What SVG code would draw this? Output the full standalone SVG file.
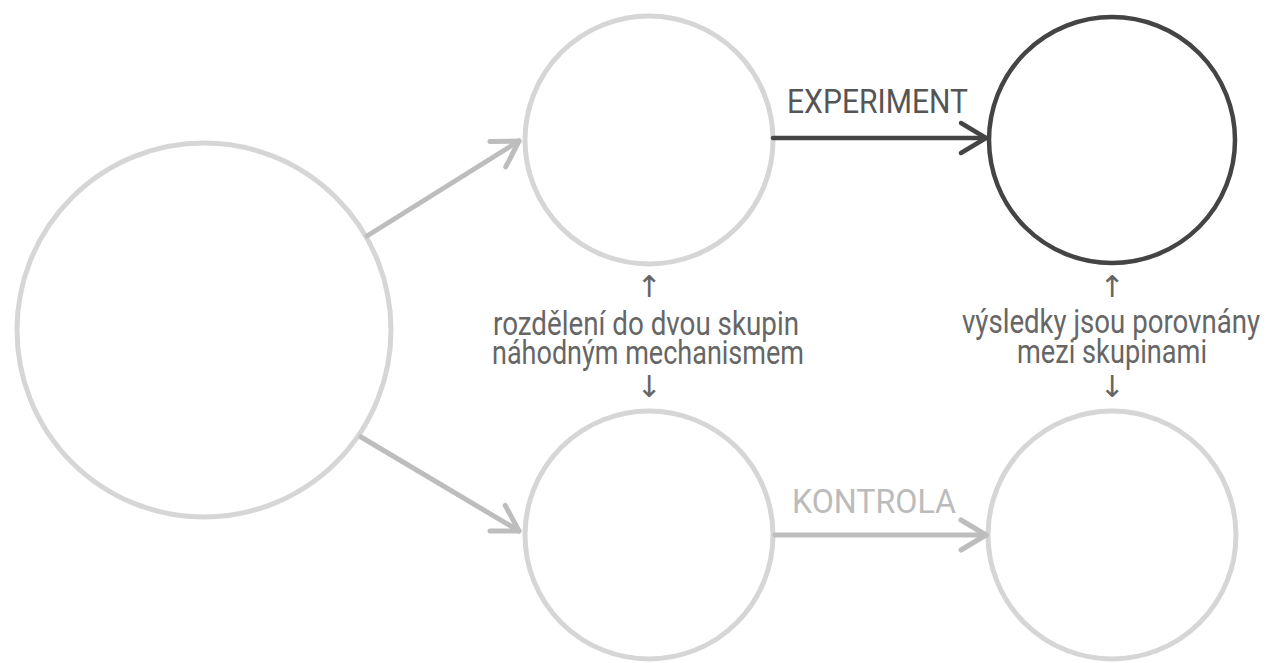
<svg xmlns="http://www.w3.org/2000/svg" width="1270" height="663" viewBox="0 0 1270 663">
<style>
.light{fill:none;stroke:#d6d6d6;stroke-width:5}
.dark{fill:none;stroke:#444;stroke-width:4.5}
.ga{fill:none;stroke:#bdbdbd;stroke-width:5;stroke-linecap:round}
.da{fill:none;stroke:#444;stroke-width:4.5;stroke-linecap:round}
.lbl{font-family:Roboto,"Liberation Sans",sans-serif;font-size:33px}
.ann{fill:#666}
.arr{font-family:"DejaVu Sans",sans-serif;font-size:30px}
</style>
<defs>
<marker id="mg" markerUnits="userSpaceOnUse" markerWidth="40" markerHeight="40" viewBox="-32 -20 40 40" refX="0" refY="0" orient="auto" overflow="visible">
<path d="M-25,-15 L0,0 L-25,15" fill="none" stroke="#bdbdbd" stroke-width="5" stroke-linecap="round" stroke-linejoin="round"/>
</marker>
<marker id="md" markerUnits="userSpaceOnUse" markerWidth="40" markerHeight="40" viewBox="-32 -20 40 40" refX="0" refY="0" orient="auto" overflow="visible">
<path d="M-25,-15 L0,0 L-25,15" fill="none" stroke="#444" stroke-width="4.5" stroke-linecap="round" stroke-linejoin="round"/>
</marker>
</defs>
<rect width="1270" height="663" fill="#fff"/>
<g id="population"><circle class="light" cx="204" cy="330" r="187"/></g>
<g id="group-top"><circle class="light" cx="649" cy="140" r="124"/></g>
<g id="group-bottom"><circle class="light" cx="649" cy="535" r="124"/></g>
<g id="result-experiment"><circle class="dark" cx="1112" cy="140" r="123"/></g>
<g id="result-control"><circle class="light" cx="1112" cy="535" r="124"/></g>
<g id="connectors">
<line class="ga" x1="367" y1="236" x2="519" y2="141" marker-end="url(#mg)"/>
<line class="ga" x1="361" y1="437" x2="519" y2="531" marker-end="url(#mg)"/>
<line class="da" x1="773" y1="138" x2="986" y2="138" marker-end="url(#md)"/>
<line class="ga" x1="775" y1="535" x2="986" y2="535" marker-end="url(#mg)"/>
</g>
<g id="labels">
<text class="lbl" x="787" y="113" fill="#555" font-size="34" textLength="181" lengthAdjust="spacingAndGlyphs">EXPERIMENT</text>
<text class="lbl" x="792" y="513" fill="#bbb" font-size="34" textLength="164" lengthAdjust="spacingAndGlyphs">KONTROLA</text>
</g>
<g id="note-randomization" class="ann" text-anchor="middle">
<text class="arr" x="649" y="297">↑</text>
<text class="lbl" x="646" y="335" textLength="306" lengthAdjust="spacingAndGlyphs">rozdělení do dvou skupin</text>
<text class="lbl" x="648" y="364" textLength="312" lengthAdjust="spacingAndGlyphs">náhodným mechanismem</text>
<text class="arr" x="649" y="397">↓</text>
</g>
<g id="note-comparison" class="ann" text-anchor="middle">
<text class="arr" x="1112" y="297">↑</text>
<text class="lbl" x="1111" y="333" textLength="298" lengthAdjust="spacingAndGlyphs">výsledky jsou porovnány</text>
<text class="lbl" x="1112" y="363" textLength="190" lengthAdjust="spacingAndGlyphs">mezi skupinami</text>
<text class="arr" x="1112" y="397">↓</text>
</g>
</svg>
